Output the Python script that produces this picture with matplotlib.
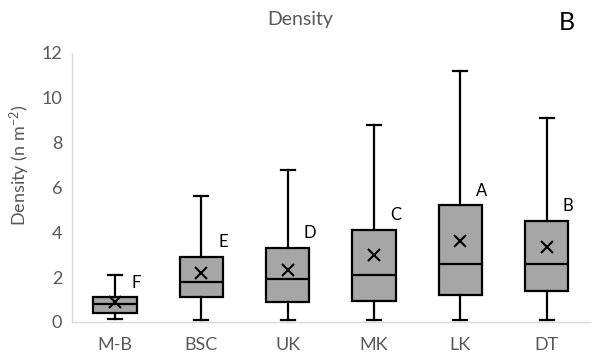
import matplotlib
matplotlib.use("Agg")
import matplotlib.pyplot as plt

plt.rcParams['font.family'] = ['Lato', 'DejaVu Sans']
plt.rcParams['mathtext.fontset'] = 'custom'
plt.rcParams['mathtext.rm'] = 'Lato'
plt.rcParams['mathtext.it'] = 'Lato'
plt.rcParams['mathtext.default'] = 'regular'

sites = ["M-B", "BSC", "UK", "MK", "LK", "DT"]
whisker_low = [0.13, 0.1, 0.1, 0.1, 0.1, 0.1]
q1 = [0.4, 1.1, 0.9, 0.95, 1.2, 1.4]
median = [0.8, 1.8, 1.9, 2.1, 2.6, 2.6]
q3 = [1.1, 2.9, 3.3, 4.1, 5.2, 4.5]
whisker_high = [2.1, 5.6, 6.8, 8.8, 11.2, 9.1]
mean = [0.9, 2.2, 2.3, 3.0, 3.6, 3.35]
groups = ["F", "E", "D", "C", "A", "B"]

fig = plt.figure(figsize=(5.94, 3.53), dpi=100)
ax = fig.add_axes([0.121, 0.088, 0.872, 0.762])

stats = []
for i, s in enumerate(sites):
    stats.append(dict(label=s, whislo=whisker_low[i], q1=q1[i], med=median[i],
                      q3=q3[i], whishi=whisker_high[i], mean=mean[i], fliers=[]))

pos = list(range(len(sites)))
ax.bxp(stats, positions=pos, widths=0.5, capwidths=0.16, patch_artist=True,
       showmeans=True, showfliers=False,
       boxprops=dict(facecolor="#a6a6a6", edgecolor="black", linewidth=1.6),
       medianprops=dict(color="black", linewidth=1.6),
       whiskerprops=dict(color="black", linewidth=1.6),
       capprops=dict(color="black", linewidth=1.6),
       meanprops=dict(marker="x", markeredgecolor="black", markersize=8,
                      markeredgewidth=1.5))

for i, g in enumerate(groups):
    ax.text(pos[i] + 0.25, q3[i] + 0.65, g, ha="center", va="center",
            fontsize=12, color="black")

ax.set_xlim(-0.5, 5.5)
ax.set_ylim(0, 12)
ax.set_yticks(range(0, 13, 2))
ax.set_xticks(pos)
ax.set_xticklabels(sites)
ax.tick_params(axis="both", length=0, labelsize=13, colors="#595959")
ax.tick_params(axis="y", pad=7)
ax.tick_params(axis="x", pad=11)

for side in ("top", "right"):
    ax.spines[side].set_visible(False)
for side in ("left", "bottom"):
    ax.spines[side].set_color("#d9d9d9")
    ax.spines[side].set_linewidth(1.0)

fig.text(0.034, 0.53, "Density (n m$^{-2}$)", rotation=90, ha="center",
         va="center", fontsize=13, color="#595959")
fig.text(0.505, 0.945, "Density", ha="center", va="center", fontsize=14,
         color="#595959")
fig.text(0.955, 0.935, "B", ha="center", va="center", fontsize=18,
         color="black")

fig.savefig("out.png", dpi=100)
